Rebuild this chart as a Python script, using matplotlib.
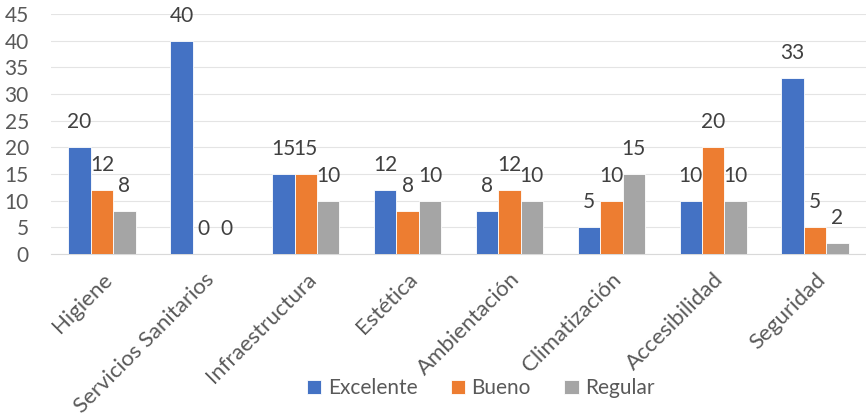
import matplotlib.pyplot as plt
import numpy as np

plt.rcParams['font.family'] = ['Lato', 'DejaVu Sans']

categorias = ['Higiene', 'Servicios Sanitarios', 'Infraestructura', 'Estética',
              'Ambientación', 'Climatización', 'Accesibilidad', 'Seguridad']
excelente = [20, 40, 15, 12, 8, 5, 10, 33]
bueno = [12, 0, 15, 8, 12, 10, 20, 5]
regular = [8, 0, 10, 10, 10, 15, 10, 2]

series = [('Excelente', excelente, '#4472C4'),
          ('Bueno', bueno, '#ED7D31'),
          ('Regular', regular, '#A5A5A5')]

fig = plt.figure(figsize=(8.66, 4.19), dpi=100)
ax = fig.add_axes([0.059, 0.394, 0.941, 0.573])

x = np.arange(len(categorias))
w = 0.22
for i, (nombre, vals, color) in enumerate(series):
    pos = x + (i - 1) * w
    ax.bar(pos, vals, w, color=color, edgecolor='white', linewidth=0.6,
           label=nombre, zorder=3)
    for px, v in zip(pos, vals):
        ax.annotate(str(v), (px, v), xytext=(0, 18), textcoords='offset points',
                    ha='center', va='center', fontsize=15, color='#404040')

ax.set_xlim(-0.5, len(categorias) - 0.5)
ax.set_ylim(0, 45)
ax.set_yticks(range(0, 46, 5))
ax.yaxis.grid(True, color='#E4E4E4', linewidth=0.8, zorder=0)
for s in ['top', 'right', 'left']:
    ax.spines[s].set_visible(False)
ax.spines['bottom'].set_color('#D9D9D9')
ax.tick_params(axis='y', length=0, pad=16, labelsize=15, labelcolor='#595959')
ax.tick_params(axis='x', length=0, pad=11, labelsize=16, labelcolor='#595959')
ax.set_xticks(x)
ax.set_xticklabels(categorias, rotation=45, ha='right', rotation_mode='anchor')

fig.legend(loc='center', bbox_to_anchor=(0.555, 0.073), ncol=3, frameon=False,
           fontsize=15, labelcolor='#595959', handlelength=0.7, handleheight=0.7,
           handletextpad=0.3, columnspacing=1.6)

plt.savefig('out.png', dpi=100)
